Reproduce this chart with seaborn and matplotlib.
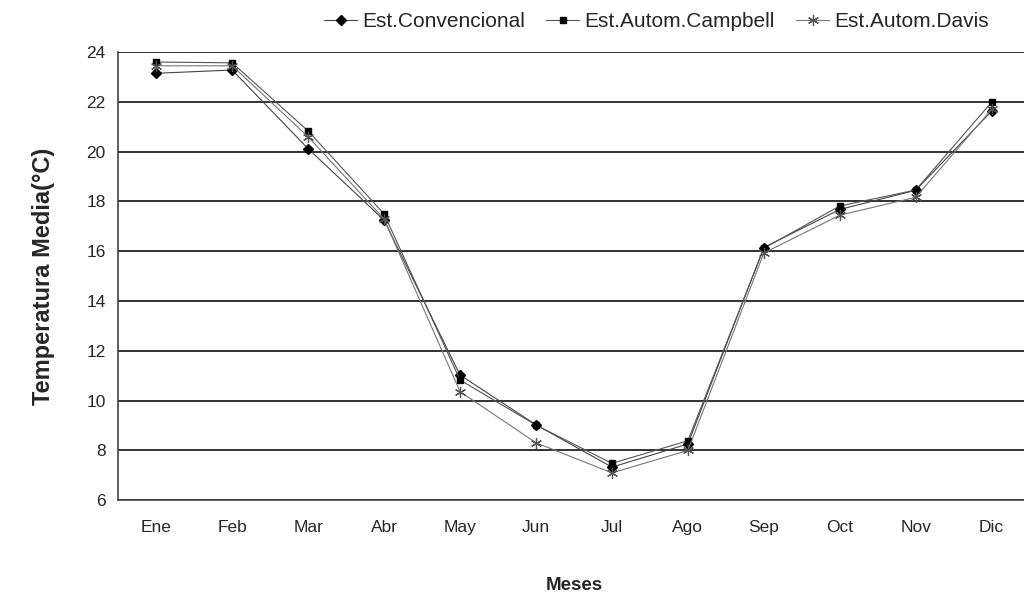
import matplotlib
matplotlib.use("Agg")
import matplotlib.pyplot as plt
import seaborn as sns
import pandas as pd
import numpy as np

months = ["Ene", "Feb", "Mar", "Abr", "May", "Jun", "Jul", "Ago", "Sep", "Oct", "Nov", "Dic"]
conv = [23.15, 23.28, 20.12, 17.25, 11.03, 9.03, 7.33, 8.26, 16.15, 17.68, 18.45, 21.63]
campbell = [23.6, 23.57, 20.83, 17.5, 10.83, 9.02, 7.48, 8.39, 16.12, 17.82, 18.46, 21.99]
davis = [23.45, 23.45, 20.6, 17.3, 10.36, 8.31, 7.1, 8.0, 15.93, 17.45, 18.17, 21.7]
series_names = ["Est.Convencional", "Est.Autom.Campbell", "Est.Autom.Davis"]

df = pd.DataFrame({
    "mes": months * 3,
    "idx": list(range(len(months))) * 3,
    "temp": conv + campbell + davis,
    "serie": [series_names[0]] * 12 + [series_names[1]] * 12 + [series_names[2]] * 12,
})

sns.set_style("white")
plt.rcParams['font.family'] = ['Liberation Sans', 'DejaVu Sans']

fig = plt.figure(figsize=(10.24, 5.92), dpi=100)
ax = fig.add_axes([0.1155, 0.155, 0.89, 0.757])

styles = {
    series_names[0]: dict(marker="D", color="#444444", mfc="black", mec="black", ms=5, mew=1),
    series_names[1]: dict(marker="s", color="#555555", mfc="black", mec="black", ms=4.5, mew=1),
    series_names[2]: dict(marker=(6, 2, 0), color="#777777", mfc="#555555", mec="#555555", ms=8, mew=0.9),
}
for name in series_names:
    sub = df[df["serie"] == name]
    st = styles[name]
    sns.lineplot(data=sub, x="idx", y="temp", ax=ax, color=st["color"], lw=0.8,
                 marker=st["marker"], markersize=st["ms"], markerfacecolor=st["mfc"],
                 markeredgecolor=st["mec"], markeredgewidth=st["mew"], label=name)

ax.set_xlim(-0.5, len(months) - 0.5)
ax.set_ylim(6, 24)
ax.set_yticks(np.arange(6, 25, 2))
ax.set_xticks(range(len(months)))
ax.set_xticklabels(months)
ax.set_xticks(np.arange(-0.5, len(months), 1), minor=True)
ax.tick_params(axis="x", which="major", length=0, pad=14, labelsize=12.5)
ax.tick_params(axis="x", which="minor", length=5, width=1, color="#444444", direction="out")
ax.tick_params(axis="y", length=5, width=1, color="#444444", direction="out", labelsize=12.5, pad=4)

ax.yaxis.grid(True, color="#222222", lw=1.3)
ax.set_axisbelow(True)
for s in ["top", "right"]:
    ax.spines[s].set_visible(False)
for s in ["left", "bottom"]:
    ax.spines[s].set_color("#444444")
    ax.spines[s].set_linewidth(1.2)

ax.set_xlabel("Meses", fontsize=13.5, fontweight="bold")
ax.xaxis.set_label_coords(0.5, -0.171)
ax.set_ylabel("Temperatura Media(°C)", fontsize=17, fontweight="bold")
ax.yaxis.set_label_coords(-0.069, 0.5)

ax.get_legend().remove()
handles, labels = ax.get_legend_handles_labels()
fig.legend(handles, labels, loc="upper right", bbox_to_anchor=(0.974, 0.994), ncol=3, frameon=False,
           fontsize=15, handlelength=1.6, handletextpad=0.25, columnspacing=1.0, borderaxespad=0)

fig.savefig("out.png", dpi=100)
